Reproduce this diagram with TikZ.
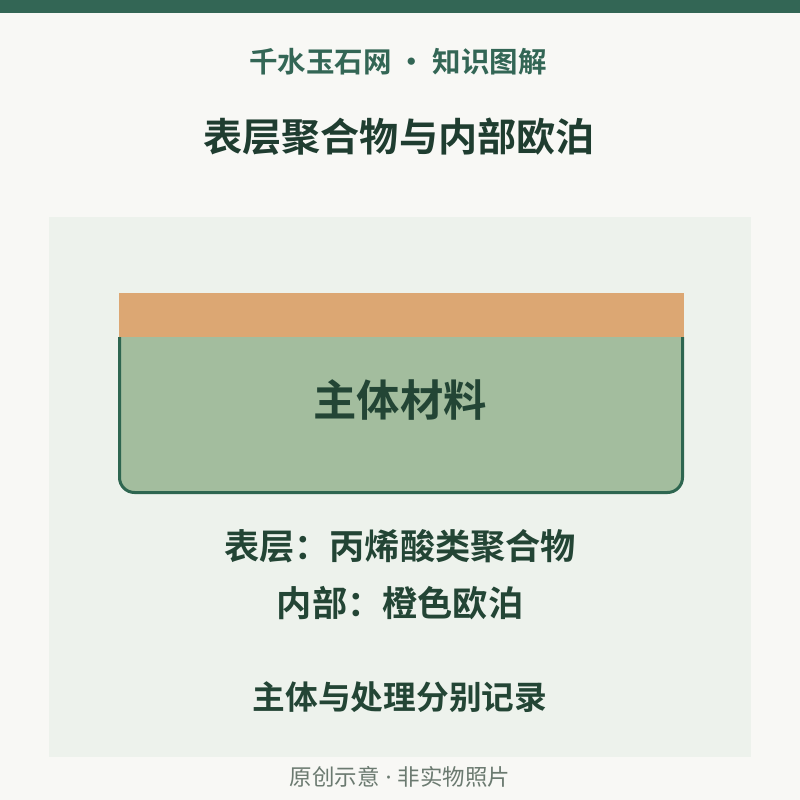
\documentclass[tikz,border=0pt]{standalone}
\usepackage{fontspec}
\newfontfamily\cjk{Noto Sans CJK SC}[BoldFont={Noto Sans CJK SC Bold}]
\newfontfamily\latn{Noto Sans}
\definecolor{bgc}{HTML}{F8F8F5}
\definecolor{barc}{HTML}{336655}
\definecolor{panelc}{HTML}{EDF2EC}
\definecolor{orangec}{HTML}{DCA773}
\definecolor{bodyc}{HTML}{A3BD9E}
\definecolor{edgec}{HTML}{2E6650}
\definecolor{darkc}{HTML}{1F3D30}
\definecolor{textc}{HTML}{234535}
\definecolor{grayc}{HTML}{6B7A70}
\tikzset{
  txt/.style={inner sep=0pt, anchor=center, font=\cjk\bfseries, text=textc},
}
\begin{document}
\begin{tikzpicture}[x=1pt,y=-1pt]
\useasboundingbox (0,0) rectangle (800,800);
\fill[bgc] (0,0) rectangle (800,800);
\fill[barc] (0,0) rectangle (800,13);
\fill[panelc] (49,217) rectangle (751,757);
% body
\draw[edgec, line width=3pt, fill=bodyc, rounded corners=15pt] (119.5,337) -- (119.5,492.5) -- (682.5,492.5) -- (682.5,337);
\fill[orangec] (119,293) rectangle (684,337);
\node[txt, font=\cjk\bfseries\fontsize{43.3}{50}\selectfont, text=textc] (main) at (400,400) {主体材料};
% texts
\node[txt, font=\cjk\bfseries\fontsize{28.5}{32}\selectfont, text=barc] (brand) at (398,62) {千水玉石网 · 知识图解};
\node[txt, font=\cjk\bfseries\fontsize{39.1}{45}\selectfont, text=darkc] (title) at (399,137) {表层聚合物与内部欧泊};
\node[txt, font=\cjk\bfseries\fontsize{35.2}{40}\selectfont] (l1) at (400,546) {表层：丙烯酸类聚合物};
\node[txt, font=\cjk\bfseries\fontsize{35.2}{40}\selectfont] (l2) at (400,603) {内部：橙色欧泊};
\node[txt, font=\cjk\bfseries\fontsize{32.7}{38}\selectfont] (l3) at (400,697) {主体与处理分别记录};
\node[txt, font=\cjk\fontsize{22.5}{26}\selectfont, text=grayc] (foot) at (400,777) {原创示意{\latn\ ·\ }非实物照片};
\end{tikzpicture}
\end{document}
